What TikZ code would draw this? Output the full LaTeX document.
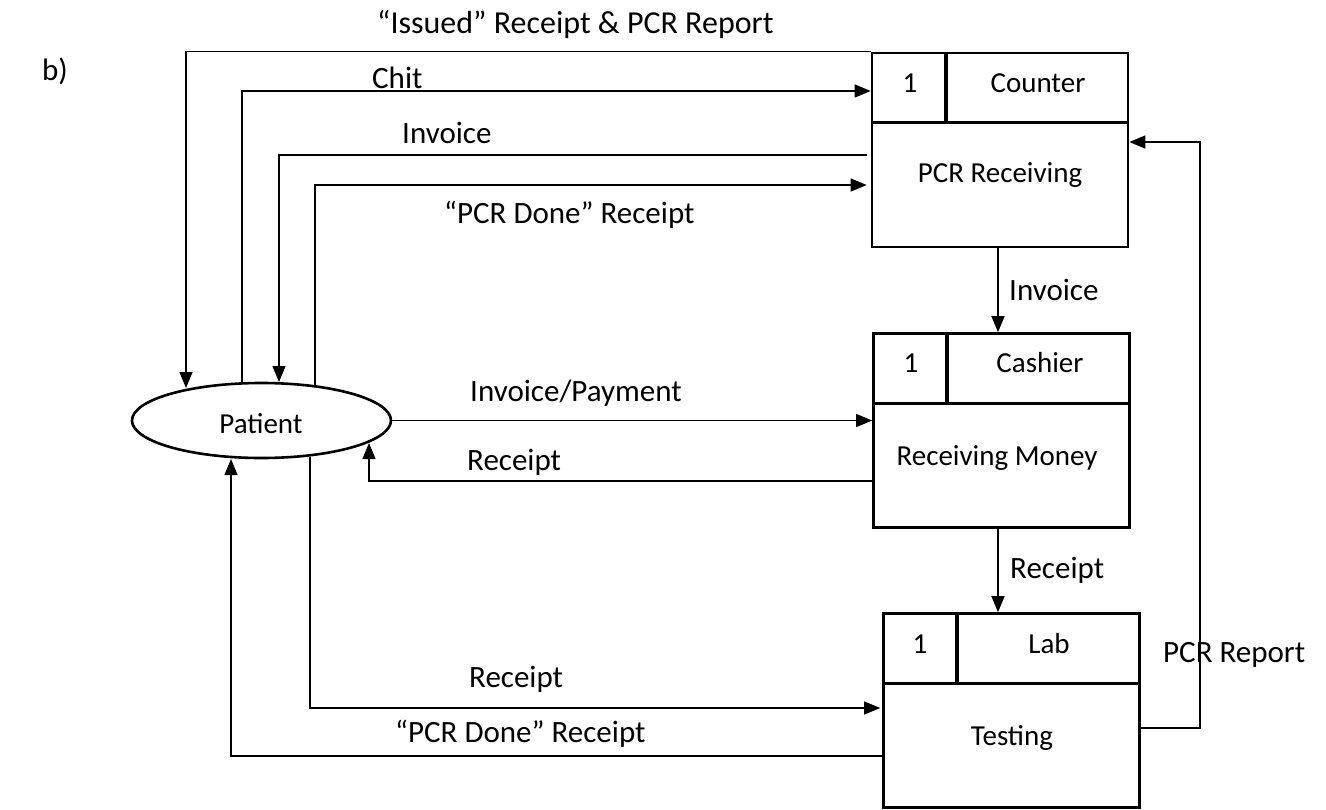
\documentclass[tikz,border=0pt]{standalone}
\usepackage{fontspec}
\setmainfont{Carlito}
\usetikzlibrary{arrows.meta,shapes.geometric,calc}
\begin{document}
\begin{tikzpicture}[x=1pt,y=-1pt,
  flow/.style={line width=1.3pt,-{Triangle[length=16pt,width=13pt]}},
  plain/.style={line width=1.3pt},
  proc/.style={draw,line width=2.6pt,rectangle,minimum width=256pt,minimum height=194pt,inner sep=0pt},
  lbl/.style={inner sep=0pt,anchor=base west,font=\fontsize{31}{37}\selectfont},
  blbl/.style={inner sep=0pt,anchor=base,font=\fontsize{29}{35}\selectfont},
  hdiv/.style={line width=2.6pt},
  vdiv/.style={line width=3.6pt}]
\useasboundingbox (0,0) rectangle (1326,809);

% process boxes
\node[proc] (cnt) at (1000,150) {};
\node[proc] (csh) at (1001.5,430.5) {};
\node[proc] (lab) at (1011.5,710.5) {};
\foreach \b in {cnt,csh,lab}{
  \draw[hdiv] ($(\b.north west)+(0,71)$) -- ($(\b.north east)+(0,71)$);
  \draw[vdiv] ($(\b.north west)+(75,0)$) -- ($(\b.north west)+(75,71)$);
}

% patient
\node[draw,ellipse,line width=2.6pt,minimum width=259pt,minimum height=75pt,inner sep=0pt] (pat) at (261.5,420.5) {};
\node[blbl] (patl) at (261,433) {Patient};

% box texts
\node[blbl] (c1) at (910,92) {1};
\node[blbl] (c2) at (1038,92) {Counter};
\node[blbl] (c3) at (1000,182) {PCR Receiving};
\node[blbl] (s1) at (911,372) {1};
\node[blbl] (s2) at (1040,372) {Cashier};
\node[blbl] (s3) at (997,465) {Receiving Money};
\node[blbl] (l1) at (920,653) {1};
\node[blbl] (l2) at (1049,653) {Lab};
\node[blbl] (l3) at (1012,745) {Testing};

% attachment points on the ellipse
\coordinate (pA) at (186,388);
\coordinate (pB) at (242,382);
\coordinate (pC) at (279,382);
\coordinate (pD) at (315,385);
\coordinate (pE) at (369,443);
\coordinate (pF) at (310,457);
\coordinate (pG) at (231,459);

% connectors
\draw[flow] (cnt.north west) -| (pA);
\draw[flow] (pB) |- (cnt.west |- 0,91);
\draw[flow] ([xshift=-4pt]cnt.west |- 0,155) -| (pC);
\draw[flow] (pD) |- ([xshift=-4pt]cnt.west |- 0,185);
\draw[flow] (lab.east |- 0,728) -- (1200,728) |- (cnt.east |- 0,142);
\draw[flow] (cnt.south -| 998,0) -- (csh.north -| 998,0);
\draw[flow] (pat.east) -- (pat.east -| csh.west);
\draw[flow] (csh.west |- 0,481) -| (pE);
\draw[flow] (csh.south -| 998,0) -- (lab.north -| 998,0);
\draw[flow] (pF) |- ([xshift=-2pt]lab.west |- 0,708);
\draw[flow] (lab.west |- 0,756) -| (pG);

% labels
\node[lbl] (tb) at (42,80) {b)};
\node[lbl,font=\fontsize{32}{38}\selectfont] (t1) at (377,33) {“Issued” Receipt \& PCR Report};
\node[lbl] (t2) at (372,88) {Chit};
\node[lbl] (t3) at (402,143) {Invoice};
\node[lbl] (t4) at (444,223) {“PCR Done” Receipt};
\node[lbl] (t5) at (1009,300) {Invoice};
\node[lbl] (t6) at (470,401) {Invoice/Payment};
\node[lbl] (t7) at (467,470) {Receipt};
\node[lbl] (t8) at (1010,578) {Receipt};
\node[lbl] (t9) at (1163,662) {PCR Report};
\node[lbl] (t10) at (469,687) {Receipt};
\node[lbl] (t11) at (395,742) {“PCR Done” Receipt};
\end{tikzpicture}
\end{document}
